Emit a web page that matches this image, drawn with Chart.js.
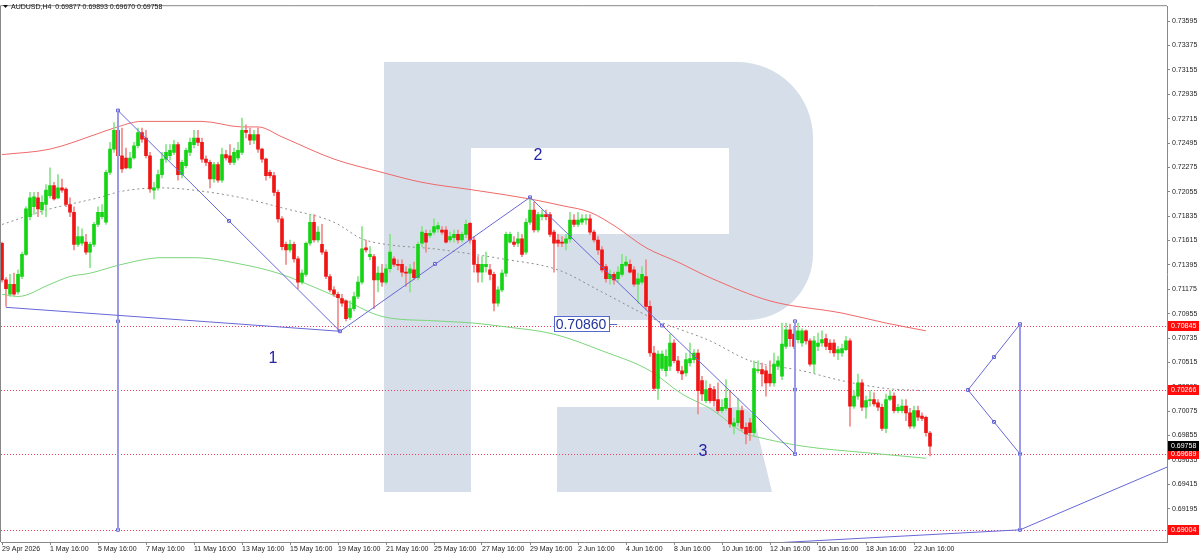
<!DOCTYPE html>
<html lang="en">
<head>
  <meta charset="UTF-8">
  <title>AUDUSD,H4</title>
  <script src="https://cdn.jsdelivr.net/npm/chart.js@4.4.1/dist/chart.umd.min.js"></script>
  <style>
    html, body { margin: 0; padding: 0; background: #ffffff; }
    #wrap { position: relative; width: 1200px; height: 555px; }
  </style>
</head>
<body>
  <div id="wrap"><canvas id="chart"></canvas></div>

  <script>
    // --- data ---
    const symbolTitle = 'AUDUSD,H4';

    // H4 candles, one per bar index 0..232
    const opens = [
      0.7159,0.7126,0.7113,0.7122,0.7115,0.7129,0.7149,0.7183,0.7192,0.7200,
      0.7189,0.7194,0.7202,0.7211,0.7200,0.7209,0.7208,0.7194,0.7187,0.7158,
      0.7159,0.7160,0.7151,0.7158,0.7176,0.7183,0.7178,0.7223,0.7244,0.7261,
      0.7238,0.7236,0.7227,0.7236,0.7247,0.7259,0.7254,0.7238,0.7207,0.7209,
      0.7221,0.7235,0.7238,0.7241,0.7248,0.7221,0.7229,0.7241,0.7248,0.7254,
      0.7250,0.7235,0.7232,0.7217,0.7230,0.7216,0.7239,0.7238,0.7232,0.7236,
      0.7241,0.7261,0.7257,0.7252,0.7257,0.7244,0.7235,0.7223,0.7220,0.7205,
      0.7181,0.7158,0.7153,0.7158,0.7145,0.7124,0.7131,0.7159,0.7178,0.7162,
      0.7158,0.7151,0.7129,0.7117,0.7113,0.7109,0.7107,0.7092,0.7100,0.7111,
      0.7124,0.7155,0.7147,0.7147,0.7126,0.7132,0.7124,0.7136,0.7145,0.7140,
      0.7140,0.7133,0.7132,0.7135,0.7128,0.7159,0.7168,0.7166,0.7169,0.7172,
      0.7171,0.7171,0.7162,0.7164,0.7167,0.7162,0.7167,0.7177,0.7162,0.7140,
      0.7133,0.7138,0.7135,0.7131,0.7105,0.7117,0.7132,0.7160,0.7160,0.7159,
      0.7163,0.7151,0.7178,0.7189,0.7171,0.7183,0.7185,0.7185,0.7169,0.7162,
      0.7160,0.7159,0.7163,0.7180,0.7176,0.7178,0.7180,0.7181,0.7169,0.7162,
      0.7153,0.7138,0.7127,0.7131,0.7127,0.7131,0.7139,0.7140,0.7135,0.7122,
      0.7124,0.7129,0.7102,0.7060,0.7028,0.7046,0.7044,0.7048,0.7069,0.7053,
      0.7044,0.7042,0.7051,0.7054,0.7060,0.7035,0.7017,0.7028,0.7027,0.7018,
      0.7008,0.7010,0.7010,0.6994,0.6997,0.7008,0.6993,0.6997,0.6988,0.7044,
      0.7045,0.7044,0.7041,0.7033,0.7048,0.7039,0.7066,0.7081,0.7077,0.7072,
      0.7069,0.7080,0.7071,0.7050,0.7066,0.7069,0.7073,0.7069,0.7069,0.7060,
      0.7060,0.7063,0.7071,0.7012,0.7021,0.7033,0.7011,0.7017,0.7018,0.7015,
      0.7011,0.6992,0.7018,0.7021,0.7008,0.7008,0.7012,0.7006,0.6994,0.7008,
      0.7003,0.7002,0.69877
    ];
    const highs = [
      0.7160,0.7128,0.7131,0.7132,0.7135,0.7151,0.7192,0.7205,0.7205,0.7205,
      0.7202,0.7212,0.7227,0.7214,0.7221,0.7217,0.7209,0.7200,0.7192,0.7174,
      0.7172,0.7167,0.7160,0.7178,0.7192,0.7194,0.7225,0.7250,0.7268,0.7266,
      0.7263,0.7245,0.7241,0.7250,0.7263,0.7263,0.7261,0.7241,0.7214,0.7225,
      0.7241,0.7248,0.7248,0.7252,0.7250,0.7234,0.7245,0.7254,0.7261,0.7261,
      0.7254,0.7238,0.7234,0.7232,0.7232,0.7245,0.7243,0.7248,0.7245,0.7250,
      0.7272,0.7266,0.7263,0.7261,0.7263,0.7245,0.7236,0.7225,0.7223,0.7207,
      0.7183,0.7160,0.7162,0.7160,0.7147,0.7135,0.7160,0.7185,0.7185,0.7174,
      0.7176,0.7153,0.7131,0.7120,0.7115,0.7113,0.7108,0.7107,0.7115,0.7129,
      0.7174,0.7162,0.7156,0.7149,0.7138,0.7140,0.7140,0.7167,0.7147,0.7144,
      0.7144,0.7138,0.7140,0.7142,0.7160,0.7174,0.7171,0.7171,0.7181,0.7178,
      0.7174,0.7174,0.7169,0.7171,0.7171,0.7169,0.7180,0.7178,0.7165,0.7147,
      0.7147,0.7151,0.7140,0.7133,0.7120,0.7135,0.7169,0.7169,0.7165,0.7169,
      0.7167,0.7181,0.7199,0.7196,0.7187,0.7189,0.7189,0.7187,0.7171,0.7167,
      0.7165,0.7167,0.7187,0.7185,0.7187,0.7185,0.7185,0.7185,0.7171,0.7165,
      0.7156,0.7140,0.7135,0.7133,0.7138,0.7149,0.7147,0.7144,0.7138,0.7132,
      0.7138,0.7144,0.7107,0.7066,0.7062,0.7062,0.7063,0.7077,0.7072,0.7057,
      0.7048,0.7060,0.7069,0.7063,0.7063,0.7039,0.7035,0.7032,0.7030,0.7033,
      0.7018,0.7036,0.7026,0.7001,0.7019,0.7012,0.6997,0.7001,0.7053,0.7053,
      0.7051,0.7048,0.7053,0.7060,0.7057,0.7087,0.7087,0.7086,0.7084,0.7087,
      0.7082,0.7081,0.7073,0.7075,0.7078,0.7080,0.7077,0.7072,0.7072,0.7066,
      0.7068,0.7075,0.7073,0.7026,0.7041,0.7036,0.7021,0.7026,0.7024,0.7018,
      0.7014,0.7023,0.7026,0.7024,0.7014,0.7018,0.7018,0.7010,0.7012,0.7012,
      0.7006,0.7003,0.69893
    ];
    const lows = [
      0.7124,0.7102,0.7111,0.7112,0.7113,0.7127,0.7148,0.7180,0.7185,0.7183,
      0.7185,0.7183,0.7200,0.7198,0.7199,0.7205,0.7192,0.7183,0.7153,0.7156,
      0.7157,0.7149,0.7137,0.7156,0.7174,0.7181,0.7176,0.7221,0.7241,0.7227,
      0.7223,0.7226,0.7226,0.7235,0.7245,0.7250,0.7236,0.7205,0.7199,0.7207,
      0.7218,0.7232,0.7234,0.7239,0.7216,0.7218,0.7227,0.7238,0.7245,0.7247,
      0.7232,0.7229,0.7209,0.7214,0.7214,0.7214,0.7234,0.7230,0.7230,0.7234,
      0.7239,0.7254,0.7248,0.7249,0.7241,0.7232,0.7216,0.7218,0.7202,0.7178,
      0.7153,0.7140,0.7151,0.7142,0.7118,0.7122,0.7129,0.7157,0.7160,0.7160,
      0.7149,0.7127,0.7115,0.7111,0.7080,0.7102,0.7089,0.7090,0.7098,0.7109,
      0.7122,0.7151,0.7144,0.7100,0.7115,0.7120,0.7122,0.7133,0.7138,0.7135,
      0.7129,0.7120,0.7115,0.7126,0.7126,0.7156,0.7151,0.7164,0.7167,0.7169,
      0.7167,0.7159,0.7160,0.7160,0.7159,0.7160,0.7164,0.7159,0.7133,0.7124,
      0.7124,0.7133,0.7126,0.7098,0.7102,0.7115,0.7129,0.7159,0.7156,0.7156,
      0.7147,0.7149,0.7176,0.7169,0.7169,0.7180,0.7180,0.7165,0.7133,0.7156,
      0.7156,0.7153,0.7160,0.7174,0.7174,0.7176,0.7176,0.7167,0.7160,0.7149,
      0.7133,0.7124,0.7122,0.7122,0.7124,0.7129,0.7138,0.7132,0.7120,0.7105,
      0.7122,0.7099,0.7057,0.7026,0.7018,0.7044,0.7039,0.7044,0.7051,0.7042,
      0.7036,0.7039,0.7048,0.7051,0.7005,0.7017,0.7015,0.7015,0.7012,0.7006,
      0.7006,0.7008,0.6993,0.6987,0.6994,0.6990,0.6978,0.6981,0.6985,0.7042,
      0.7030,0.7021,0.7030,0.7030,0.7045,0.7036,0.7064,0.7066,0.7064,0.7069,
      0.7066,0.7068,0.7048,0.7042,0.7062,0.7066,0.7063,0.7060,0.7057,0.7054,
      0.7057,0.7062,0.6994,0.7010,0.7018,0.7008,0.7001,0.7012,0.7012,0.7008,
      0.6990,0.6988,0.7017,0.7006,0.7006,0.7006,0.6999,0.6992,0.6992,0.6999,
      0.6999,0.6985,0.69670
    ];
    const closes = [
      0.7126,0.7118,0.7122,0.7113,0.7131,0.7149,0.7190,0.7200,0.7201,0.7190,
      0.7196,0.7207,0.7211,0.7199,0.7209,0.7207,0.7194,0.7187,0.7158,0.7165,
      0.7165,0.7151,0.7158,0.7176,0.7187,0.7187,0.7223,0.7244,0.7261,0.7238,
      0.7226,0.7227,0.7236,0.7247,0.7259,0.7253,0.7238,0.7208,0.7209,0.7221,
      0.7235,0.7241,0.7243,0.7248,0.7221,0.7232,0.7243,0.7250,0.7254,0.7250,
      0.7235,0.7232,0.7217,0.7230,0.7216,0.7239,0.7236,0.7232,0.7241,0.7243,
      0.7261,0.7259,0.7252,0.7257,0.7244,0.7235,0.7220,0.7220,0.7205,0.7181,
      0.7156,0.7153,0.7158,0.7145,0.7124,0.7132,0.7159,0.7178,0.7162,0.7169,
      0.7151,0.7129,0.7117,0.7113,0.7110,0.7105,0.7091,0.7100,0.7111,0.7124,
      0.7154,0.7153,0.7149,0.7126,0.7132,0.7124,0.7136,0.7151,0.7140,0.7139,
      0.7133,0.7132,0.7136,0.7128,0.7158,0.7169,0.7160,0.7168,0.7174,0.7175,
      0.7169,0.7160,0.7165,0.7167,0.7162,0.7167,0.7176,0.7162,0.7140,0.7133,
      0.7140,0.7140,0.7131,0.7105,0.7117,0.7132,0.7167,0.7167,0.7158,0.7163,
      0.7149,0.7178,0.7189,0.7171,0.7185,0.7185,0.7183,0.7167,0.7159,0.7159,
      0.7159,0.7163,0.7180,0.7176,0.7180,0.7181,0.7181,0.7169,0.7162,0.7153,
      0.7135,0.7127,0.7131,0.7126,0.7133,0.7140,0.7142,0.7133,0.7122,0.7127,
      0.7131,0.7102,0.7060,0.7028,0.7059,0.7059,0.7057,0.7069,0.7053,0.7044,
      0.7041,0.7054,0.7055,0.7060,0.7026,0.7023,0.7027,0.7017,0.7017,0.7008,
      0.7011,0.7019,0.6996,0.6997,0.7008,0.6992,0.6987,0.6988,0.7046,0.7045,
      0.7041,0.7033,0.7033,0.7050,0.7053,0.7068,0.7081,0.7073,0.7066,0.7080,
      0.7080,0.7071,0.7050,0.7071,0.7069,0.7072,0.7066,0.7063,0.7060,0.7063,
      0.7064,0.7071,0.7012,0.7021,0.7033,0.7011,0.7017,0.7018,0.7014,0.7011,
      0.6992,0.7018,0.7021,0.7008,0.7011,0.7012,0.7006,0.6994,0.7008,0.7002,
      0.7001,0.6988,0.69758
    ];

    // time axis: one label every 12 bars (two trading days)
    const timeLabels = [
      '29 Apr 2026', '1 May 16:00', '5 May 16:00', '7 May 16:00', '11 May 16:00',
      '13 May 16:00', '15 May 16:00', '19 May 16:00', '21 May 16:00', '25 May 16:00',
      '27 May 16:00', '29 May 16:00', '2 Jun 16:00', '4 Jun 16:00', '8 Jun 16:00',
      '10 Jun 16:00', '12 Jun 16:00', '16 Jun 16:00', '18 Jun 16:00', '22 Jun 16:00'
    ];
    const barsPerLabel = 12;

    const priceTicks = [
      0.73595, 0.73375, 0.73155, 0.72935, 0.72715, 0.72495, 0.72275, 0.72055,
      0.71835, 0.71615, 0.71395, 0.71175, 0.70955, 0.70735, 0.70515, 0.70295,
      0.70075, 0.69855, 0.69635, 0.69415, 0.69195, 0.68975
    ];

    // moving averages, sampled along the curve
    const redMaX = [0, 12, 24, 28, 35, 50, 60, 64, 70, 83, 95, 105, 118, 132, 140, 147, 153, 161, 169, 177, 192, 210, 221, 231];
    const redMaY = [0.7239, 0.7244, 0.7258, 0.7263, 0.7269, 0.7269, 0.7264, 0.7264, 0.7255, 0.7235, 0.7223, 0.7214,
                    0.7207, 0.7199, 0.7193, 0.7187, 0.7175, 0.7155, 0.7142, 0.7128, 0.7107, 0.7096, 0.7087, 0.7080];
    const grayMaX = [0, 12, 24, 30, 40, 50, 60, 70, 83, 90, 96, 108, 118, 125, 139, 150, 164, 177, 187, 200, 210, 221, 231];
    const grayMaY = [0.7176, 0.7190, 0.7200, 0.7206, 0.7209, 0.7206, 0.7200, 0.7191, 0.7178, 0.7163, 0.7158, 0.7154,
                     0.7149, 0.7145, 0.7135, 0.7115, 0.7089, 0.7071, 0.7053, 0.7044, 0.7035, 0.7028, 0.7026];
    const greenMaX = [0, 4, 12, 17, 22, 30, 40, 48, 60, 69, 79, 86, 95, 108, 118, 125, 138, 150, 162, 170, 177, 186, 189, 200, 216, 231];
    const greenMaY = [0.7113, 0.7111, 0.7122, 0.7129, 0.7132, 0.7140, 0.7146, 0.7146, 0.7140, 0.7132, 0.7118, 0.7107, 0.7093,
                      0.7089, 0.7087, 0.7084, 0.7077, 0.7062, 0.7044, 0.7023, 0.7010, 0.6987, 0.6984, 0.6976, 0.6970, 0.6965];

    // wave markup
    const baseLineX = [1, 84.5];
    const baseLineY = [0.71012, 0.70796];
    const waveX = [29, 84.5, 132, 198.25];
    const waveY = [0.72788, 0.70796, 0.72005, 0.69689];
    const projX = [254.5, 241.5, 254.5];
    const projY = [0.70860, 0.70266, 0.69689];
    const floorX = [190, 254.5, 291.25];
    const floorY = [0.68880, 0.69004, 0.69570];
    const vertX = [29, 198.25, 254.5];
    const vertTop = [0.72788, 0.70886, 0.70860];
    const vertBottom = [0.69004, 0.69689, 0.69004];
    const markerX = [29, 29, 29, 56.75, 84.5, 108.25, 132, 165, 198.25, 198.25, 198.25, 241.5, 248, 248, 254.5, 254.5, 254.5];
    const markerY = [0.72788, 0.70886, 0.69004, 0.71792, 0.70796, 0.71404, 0.72005, 0.70848, 0.69689, 0.70886, 0.70270,
                     0.70266, 0.70563, 0.69978, 0.70860, 0.69689, 0.69004];
    const waveLabels = ['1', '2', '3'];
    const waveLabelX = [67.75, 134, 175.25];
    const waveLabelY = [0.70553, 0.72383, 0.69712];
    const tagX = 144.75;
    const tagValue = 0.70860;

    const levelValues = [0.70845, 0.70266, 0.69689, 0.69004];

    // --- building ---
    const FONT = '"Liberation Sans", Arial, sans-serif';
    Chart.defaults.font.family = FONT;
    Chart.defaults.font.size = 7;
    Chart.defaults.color = '#222';

    const last = closes.length - 1;
    const isUp = closes.map((c, i) => c >= opens[i]);
    const bodyData = opens.map((o, i) => ({ x: i, y: [o, closes[i]] }));
    const wickData = opens.map((o, i) => ({ x: i, y: [lows[i], highs[i]] }));

    function pts(xs, ys) {
      return xs.map((x, i) => ({ x: x, y: ys[i] }));
    }
    function trend(xs, ys, color, width) {
      return { type: 'line', data: pts(xs, ys), borderColor: color, borderWidth: width,
               pointRadius: 0, tension: 0, order: 0 };
    }
    function maLine(xs, ys, color, dash) {
      return { type: 'line', data: pts(xs, ys), borderColor: color, borderWidth: 1, borderDash: dash,
               pointRadius: 0, cubicInterpolationMode: 'monotone', order: 3 };
    }

    const datasets = [
      { type: 'bar', data: bodyData, grouped: false, barThickness: 3, minBarLength: 1, borderWidth: 0,
        backgroundColor: isUp.map(u => u ? '#14d414' : '#f01414'), order: 1 },
      { type: 'bar', data: wickData, grouped: false, barThickness: 1, borderWidth: 0,
        backgroundColor: isUp.map(u => u ? '#86e486' : '#f08a8a'), order: 2 },
      maLine(redMaX, redMaY, '#f06a6a', []),
      maLine(grayMaX, grayMaY, '#8d8d8d', [2, 3]),
      maLine(greenMaX, greenMaY, '#7cd67c', []),
      trend(baseLineX, baseLineY, '#6767d8', 1),
      trend(waveX, waveY, '#6767d8', 1),
      trend(projX, projY, '#6767d8', 1),
      trend(floorX, floorY, '#6767d8', 1)
    ];
    vertX.forEach((vx, i) => {
      datasets.push(trend([vx, vx], [vertTop[i], vertBottom[i]], '#9a9ae8', 2));
    });
    datasets.push({ type: 'line', data: pts(markerX, markerY), showLine: false, pointStyle: 'rect',
                    pointRadius: 2, pointBackgroundColor: '#ffffff', pointBorderColor: '#5c5cd2',
                    pointBorderWidth: 1, order: 0 });

    // watermark and dotted level lines behind the candles
    const backdrop = {
      id: 'backdrop',
      beforeDatasetsDraw(chart) {
        const { ctx, chartArea: a, scales: { y } } = chart;
        ctx.save();
        ctx.beginPath();
        ctx.rect(a.left, a.top, a.right - a.left, a.bottom - a.top);
        ctx.clip();

        ctx.fillStyle = '#d5dee9';
        ctx.beginPath();
        ctx.moveTo(384, 62);
        ctx.lineTo(737, 62);
        ctx.arcTo(813, 62, 813, 138, 76);
        ctx.lineTo(813, 254);
        ctx.arcTo(813, 320, 747, 320, 66);
        ctx.lineTo(557, 320);
        ctx.lineTo(557, 234);
        ctx.lineTo(729, 234);
        ctx.lineTo(729, 148);
        ctx.lineTo(471, 148);
        ctx.lineTo(471, 492);
        ctx.lineTo(384, 492);
        ctx.closePath();
        ctx.moveTo(557, 407);
        ctx.lineTo(735, 407);
        ctx.quadraticCurveTo(752, 407, 755, 422);
        ctx.lineTo(772, 492);
        ctx.lineTo(557, 492);
        ctx.closePath();
        ctx.fill();

        ctx.strokeStyle = '#f0405e';
        ctx.lineWidth = 1;
        ctx.setLineDash([1, 2]);
        levelValues.forEach(v => {
          const py = Math.round(y.getPixelForValue(v)) + 0.5;
          ctx.beginPath();
          ctx.moveTo(a.left, py);
          ctx.lineTo(a.right, py);
          ctx.stroke();
        });
        ctx.restore();
      }
    };

    // wave numbers and the price tag
    const overlay = {
      id: 'overlay',
      afterDatasetsDraw(chart) {
        const { ctx, scales: { x, y } } = chart;
        ctx.save();
        ctx.textAlign = 'center';
        ctx.textBaseline = 'middle';
        ctx.fillStyle = '#2424a6';
        ctx.font = '16px ' + FONT;
        waveLabels.forEach((t, i) => {
          ctx.fillText(t, x.getPixelForValue(waveLabelX[i]), y.getPixelForValue(waveLabelY[i]));
        });

        const txt = tagValue.toFixed(5);
        const tx = x.getPixelForValue(tagX);
        const ty = Math.round(y.getPixelForValue(tagValue));
        ctx.font = '14px ' + FONT;
        const w = ctx.measureText(txt).width + 4;
        ctx.fillStyle = '#ffffff';
        ctx.fillRect(tx - w / 2, ty - 8, w, 16);
        ctx.strokeStyle = '#5568cc';
        ctx.lineWidth = 1;
        ctx.strokeRect(Math.round(tx - w / 2) + 0.5, ty - 7.5, Math.round(w), 15);
        ctx.beginPath();
        ctx.moveTo(tx + w / 2 + 1, ty + 0.5);
        ctx.lineTo(tx + w / 2 + 9, ty + 0.5);
        ctx.stroke();
        ctx.fillStyle = '#22339e';
        ctx.fillText(txt, tx, ty + 1);
        ctx.restore();
      }
    };

    // frame, header line and price badges on the right axis
    const chrome = {
      id: 'chrome',
      afterDraw(chart) {
        const { ctx, chartArea: a, scales: { y } } = chart;
        ctx.save();
        ctx.strokeStyle = '#888';
        ctx.lineWidth = 1;
        ctx.beginPath();
        ctx.moveTo(a.left - 0.5, a.bottom);
        ctx.lineTo(a.left - 0.5, a.top - 0.5);
        ctx.lineTo(a.right, a.top - 0.5);
        ctx.stroke();

        ctx.fillStyle = '#111';
        ctx.beginPath();
        ctx.moveTo(3, 5); ctx.lineTo(8, 5); ctx.lineTo(5.5, 8);
        ctx.closePath();
        ctx.fill();
        ctx.font = '7px ' + FONT;
        ctx.textBaseline = 'middle';
        ctx.textAlign = 'left';
        const quote = [opens[last], highs[last], lows[last], closes[last]].map(v => v.toFixed(5)).join(' ');
        ctx.fillText(symbolTitle + '  ' + quote, 11, 7);

        const badge = (v, bg) => {
          const py = Math.round(y.getPixelForValue(v));
          ctx.fillStyle = bg;
          ctx.fillRect(a.right + 1, py - 5, 31, 10);
          ctx.fillStyle = '#ffffff';
          ctx.fillText(v.toFixed(5), a.right + 4, py + 0.5);
        };
        levelValues.forEach(v => badge(v, '#ff0d0d'));
        badge(closes[last], '#000000');
        ctx.restore();
      }
    };

    new Chart(document.getElementById('chart'), {
      type: 'bar',
      data: { datasets: datasets },
      options: {
        responsive: true,
        maintainAspectRatio: false,
        animation: false,
        events: [],
        layout: { autoPadding: false, padding: { left: 1, top: 3, right: 0, bottom: 0 } },
        plugins: { legend: { display: false }, tooltip: { enabled: false } },
        scales: {
          x: {
            type: 'linear',
            position: 'bottom',
            min: -0.25,
            max: 291.25,
            offset: false,
            grid: { drawOnChartArea: false, drawTicks: true, tickLength: 3, color: '#888', offset: false },
            border: { display: true, color: '#888' },
            afterBuildTicks: s => { s.ticks = timeLabels.map((t, i) => ({ value: i * barsPerLabel })); },
            afterFit: s => { s.height = 13; },
            ticks: {
              autoSkip: false, maxRotation: 0, align: 'start', padding: 0, color: '#222',
              callback: (v, i) => timeLabels[i]
            }
          },
          y: {
            type: 'linear',
            position: 'right',
            min: 0.688942,
            max: 0.737296,
            grid: { drawOnChartArea: false, drawTicks: true, tickLength: 3, color: '#888' },
            border: { display: true, color: '#888' },
            afterBuildTicks: s => { s.ticks = priceTicks.map(v => ({ value: v })); },
            afterFit: s => { s.width = 33; },
            ticks: { padding: 2, color: '#222', callback: v => v.toFixed(5) }
          }
        }
      },
      plugins: [backdrop, overlay, chrome]
    });
  </script>
</body>
</html>
